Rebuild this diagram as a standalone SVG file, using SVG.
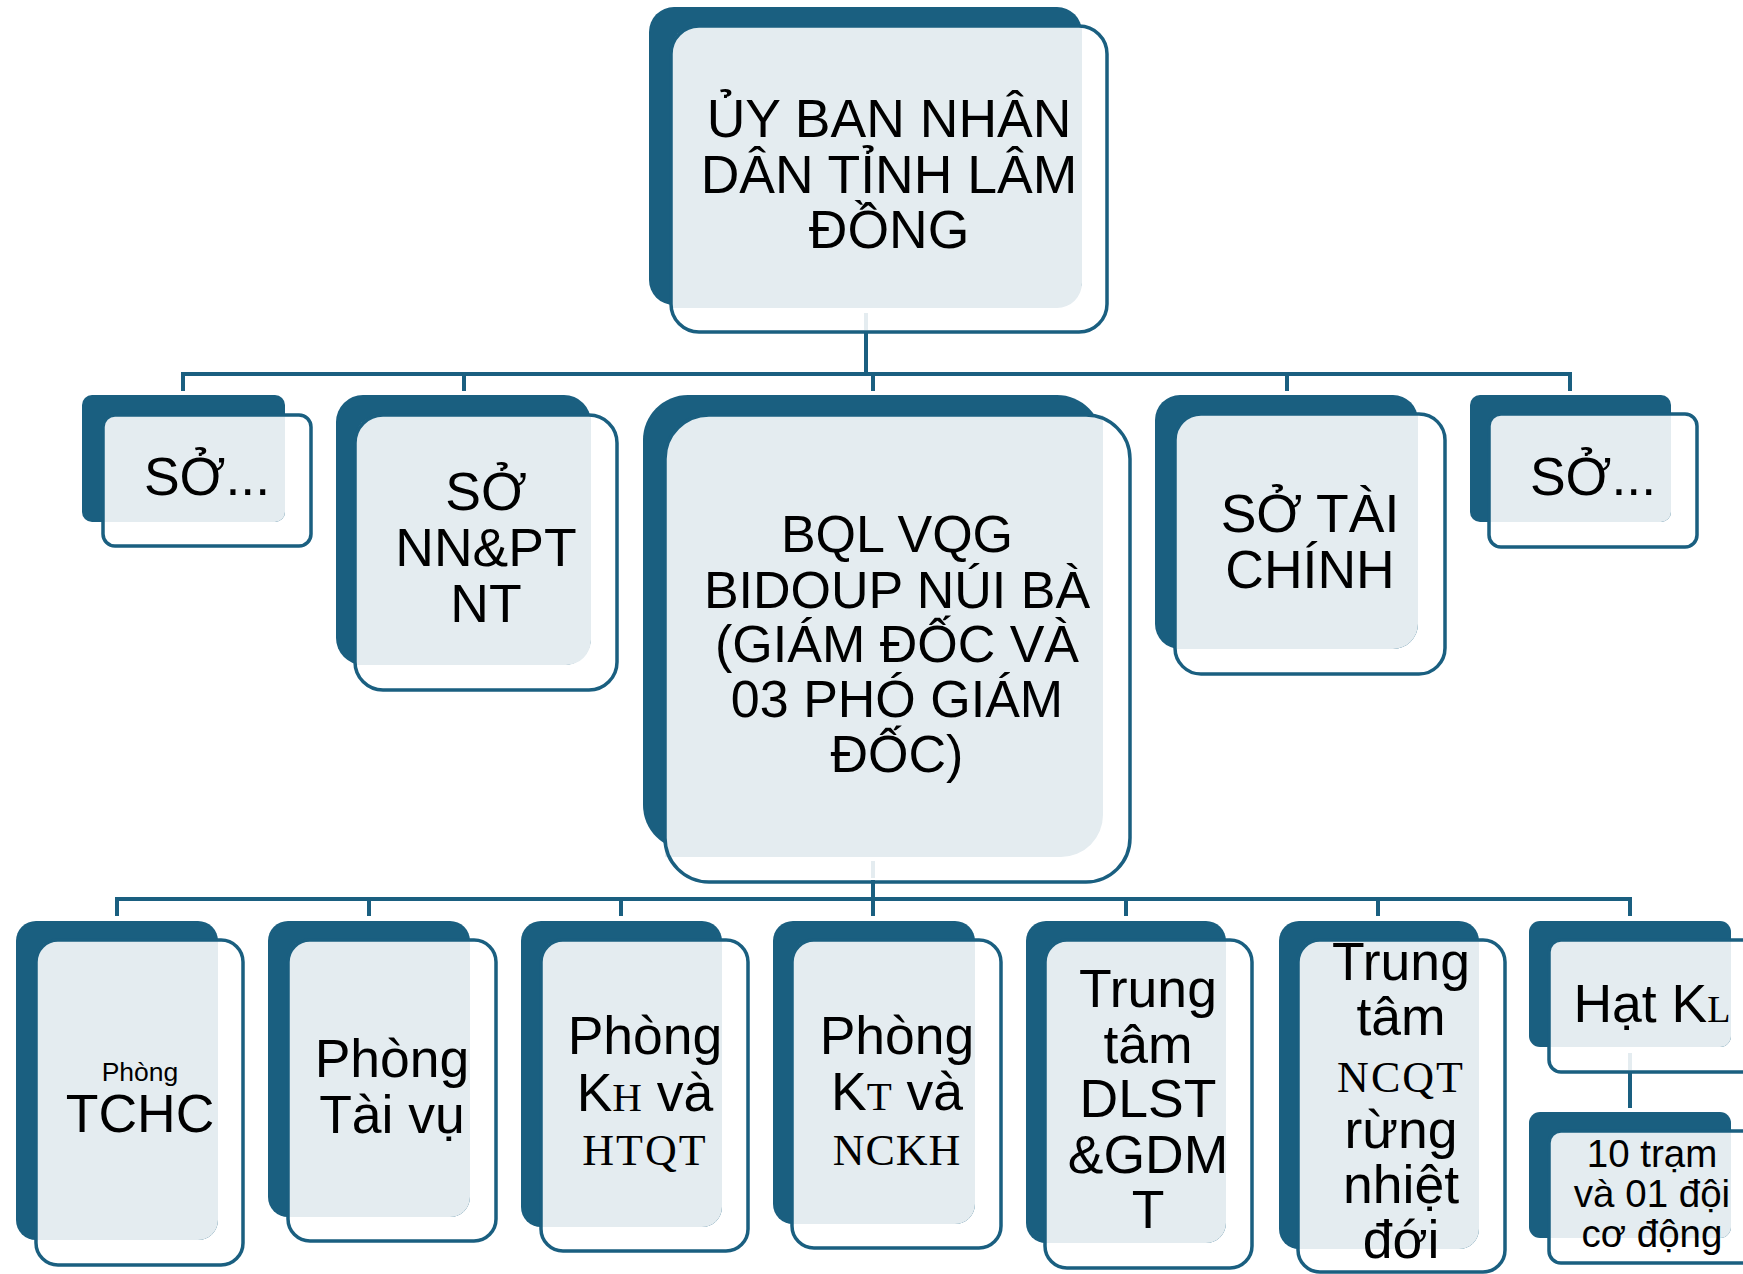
<svg xmlns="http://www.w3.org/2000/svg" width="1743" height="1274" viewBox="0 0 1743 1274">
<style>
.dk{fill:#1a5f80}
.lt{fill:#e4ecf0}
.ol{fill:none;stroke:#1a5f80;stroke-width:3.5}
.t{font-family:"Liberation Sans",Arial,sans-serif;fill:#000;text-anchor:middle;font-size:53.5px}
.m{font-family:"Liberation Serif","Times New Roman",serif}
.cn{stroke:#1a5f80;stroke-width:4;fill:none}
.cl{stroke:#e4ecf0;stroke-width:4;fill:none}
</style>
<rect width="1743" height="1274" fill="#fff"/>
<g id="connectors">
<line class="cl" x1="866" y1="313" x2="866" y2="330"/>
<line class="cn" x1="866" y1="331" x2="866" y2="376"/>
<path class="cn" d="M183,391 V374 H1570 V391"/>
<line class="cn" x1="464" y1="374" x2="464" y2="391"/>
<line class="cn" x1="873" y1="374" x2="873" y2="391"/>
<line class="cn" x1="1287" y1="374" x2="1287" y2="391"/>
<line class="cl" x1="873" y1="861" x2="873" y2="878"/>
<line class="cn" x1="873" y1="880" x2="873" y2="916"/>
<path class="cn" d="M117,916 V899 H1630 V916"/>
<line class="cn" x1="369" y1="899" x2="369" y2="916"/>
<line class="cn" x1="621" y1="899" x2="621" y2="916"/>
<line class="cn" x1="1126" y1="899" x2="1126" y2="916"/>
<line class="cn" x1="1378" y1="899" x2="1378" y2="916"/>
<line class="cl" x1="1630" y1="1053" x2="1630" y2="1070"/>
<line class="cn" x1="1630" y1="1071" x2="1630" y2="1108"/>
</g>
<g id="ubnd">
<rect class="dk" x="649" y="7" width="433" height="298" rx="25"/>
<path class="lt" d="M671,51 A25,25 0 0 1 696,26 H1082 V283 A25,25 0 0 1 1057,308 H671 Z"/>
<rect class="ol" x="671" y="26" width="436" height="306" rx="28"/>
<text class="t"><tspan x="889" y="137">ỦY BAN NHÂN</tspan><tspan x="889" y="193">DÂN TỈNH LÂM</tspan><tspan x="889" y="248">ĐỒNG</tspan></text>
</g>
<g id="so1">
<rect class="dk" x="82" y="395" width="203" height="127" rx="10"/>
<path class="lt" d="M103,425 A10,10 0 0 1 113,415 H285 V512 A10,10 0 0 1 275,522 H103 Z"/>
<rect class="ol" x="103" y="415" width="208" height="131" rx="12"/>
<text class="t" x="207" y="495">SỞ...</text>
</g>
<g id="so-nnptnt">
<rect class="dk" x="336" y="395" width="255" height="270" rx="27"/>
<path class="lt" d="M355,440 A25,25 0 0 1 380,415 H591 V640 A25,25 0 0 1 566,665 H355 Z"/>
<rect class="ol" x="355" y="415" width="262" height="275" rx="28"/>
<text class="t"><tspan x="486" y="510">SỞ</tspan><tspan x="486" y="566">NN&amp;PT</tspan><tspan x="486" y="622">NT</tspan></text>
</g>
<g id="bql">
<rect class="dk" x="643" y="395" width="459" height="455" rx="45"/>
<path class="lt" d="M665,457 A42,42 0 0 1 707,415 H1103 V815 A42,42 0 0 1 1061,857 H665 Z"/>
<rect class="ol" x="665" y="415" width="465" height="467" rx="44"/>
<text class="t" style="font-size:52px"><tspan x="897" y="552">BQL VQG</tspan><tspan x="897" y="608">BIDOUP NÚI BÀ</tspan><tspan x="897" y="662">(GIÁM ĐỐC VÀ</tspan><tspan x="897" y="717">03 PHÓ GIÁM</tspan><tspan x="897" y="772">ĐỐC)</tspan></text>
</g>
<g id="so-taichinh">
<rect class="dk" x="1155" y="395" width="263" height="254" rx="25"/>
<path class="lt" d="M1175,439 A25,25 0 0 1 1200,414 H1418 V624 A25,25 0 0 1 1393,649 H1175 Z"/>
<rect class="ol" x="1175" y="414" width="270" height="260" rx="26"/>
<text class="t"><tspan x="1310" y="532">SỞ TÀI</tspan><tspan x="1310" y="588">CHÍNH</tspan></text>
</g>
<g id="so2">
<rect class="dk" x="1470" y="395" width="201" height="127" rx="10"/>
<path class="lt" d="M1489,424 A10,10 0 0 1 1499,414 H1671 V512 A10,10 0 0 1 1661,522 H1489 Z"/>
<rect class="ol" x="1489" y="414" width="208" height="133" rx="12"/>
<text class="t" x="1593" y="495">SỞ...</text>
</g>
<g id="tchc">
<rect class="dk" x="16" y="921" width="202" height="319" rx="20"/>
<path class="lt" d="M36,960 A20,20 0 0 1 56,940 H218 V1220 A20,20 0 0 1 198,1240 H36 Z"/>
<rect class="ol" x="36" y="940" width="207" height="325" rx="22"/>
<text class="t"><tspan x="140" y="1081" style="font-size:26.5px">Phòng</tspan><tspan x="140" y="1132">TCHC</tspan></text>
</g>
<g id="taivu">
<rect class="dk" x="268" y="921" width="202" height="296" rx="20"/>
<path class="lt" d="M288,960 A20,20 0 0 1 308,940 H470 V1197 A20,20 0 0 1 450,1217 H288 Z"/>
<rect class="ol" x="288" y="940" width="208" height="301" rx="22"/>
<text class="t"><tspan x="392" y="1077">Phòng</tspan><tspan x="392" y="1133">Tài vụ</tspan></text>
</g>
<g id="khhtqt">
<rect class="dk" x="521" y="921" width="201" height="306" rx="20"/>
<path class="lt" d="M541,960 A20,20 0 0 1 561,940 H722 V1207 A20,20 0 0 1 702,1227 H541 Z"/>
<rect class="ol" x="541" y="940" width="207" height="311" rx="22"/>
<text class="t" x="645" y="1054">Phòng</text>
<text class="t" x="645" y="1111">K<tspan class="m" style="font-size:41px">H</tspan> và</text>
<text class="t m" x="645" y="1165" style="font-size:44px;letter-spacing:2px">HTQT</text>
</g>
<g id="ktnckh">
<rect class="dk" x="773" y="921" width="202" height="303" rx="20"/>
<path class="lt" d="M792,960 A20,20 0 0 1 812,940 H975 V1204 A20,20 0 0 1 955,1224 H792 Z"/>
<rect class="ol" x="792" y="940" width="209" height="308" rx="22"/>
<text class="t" x="897" y="1054">Phòng</text>
<text class="t" x="897" y="1110">K<tspan class="m" style="font-size:41px">T</tspan> và</text>
<text class="t m" x="897" y="1165" style="font-size:44px;letter-spacing:1px">NCKH</text>
</g>
<g id="dlst">
<rect class="dk" x="1026" y="921" width="200" height="322" rx="20"/>
<path class="lt" d="M1045,960 A20,20 0 0 1 1065,940 H1226 V1223 A20,20 0 0 1 1206,1243 H1045 Z"/>
<rect class="ol" x="1045" y="940" width="207" height="328" rx="22"/>
<text class="t"><tspan x="1148" y="1007">Trung</tspan><tspan x="1148" y="1063">tâm</tspan><tspan x="1148" y="1117">DLST</tspan><tspan x="1148" y="1173">&amp;GDM</tspan><tspan x="1148" y="1228">T</tspan></text>
</g>
<g id="ncqt">
<rect class="dk" x="1279" y="921" width="200" height="328" rx="20"/>
<path class="lt" d="M1298,960 A20,20 0 0 1 1318,940 H1479 V1229 A20,20 0 0 1 1459,1249 H1298 Z"/>
<rect class="ol" x="1298" y="940" width="207" height="332" rx="22"/>
<text class="t"><tspan x="1401" y="980">Trung</tspan><tspan x="1401" y="1035">tâm</tspan></text>
<text class="t m" x="1401" y="1092" style="font-size:44px;letter-spacing:2px">NCQT</text>
<text class="t"><tspan x="1401" y="1148">rừng</tspan><tspan x="1401" y="1203">nhiệt</tspan><tspan x="1401" y="1258">đới</tspan></text>
</g>
<g id="hatkl">
<rect class="dk" x="1529" y="921" width="202" height="126" rx="11"/>
<path class="lt" d="M1549,951 A11,11 0 0 1 1560,940 H1731 V1036 A11,11 0 0 1 1720,1047 H1549 Z"/>
<rect class="ol" x="1549" y="940" width="206" height="132" rx="12"/>
<text class="t" x="1652" y="1022">Hạt K<tspan class="m" style="font-size:38px">L</tspan></text>
</g>
<g id="tram">
<rect class="dk" x="1529" y="1112" width="202" height="126" rx="11"/>
<path class="lt" d="M1549,1142 A11,11 0 0 1 1560,1131 H1731 V1227 A11,11 0 0 1 1720,1238 H1549 Z"/>
<rect class="ol" x="1549" y="1131" width="206" height="132" rx="12"/>
<text class="t" style="font-size:38.5px"><tspan x="1652" y="1167">10 trạm</tspan><tspan x="1652" y="1207">và 01 đội</tspan><tspan x="1652" y="1247">cơ động</tspan></text>
</g>
</svg>
